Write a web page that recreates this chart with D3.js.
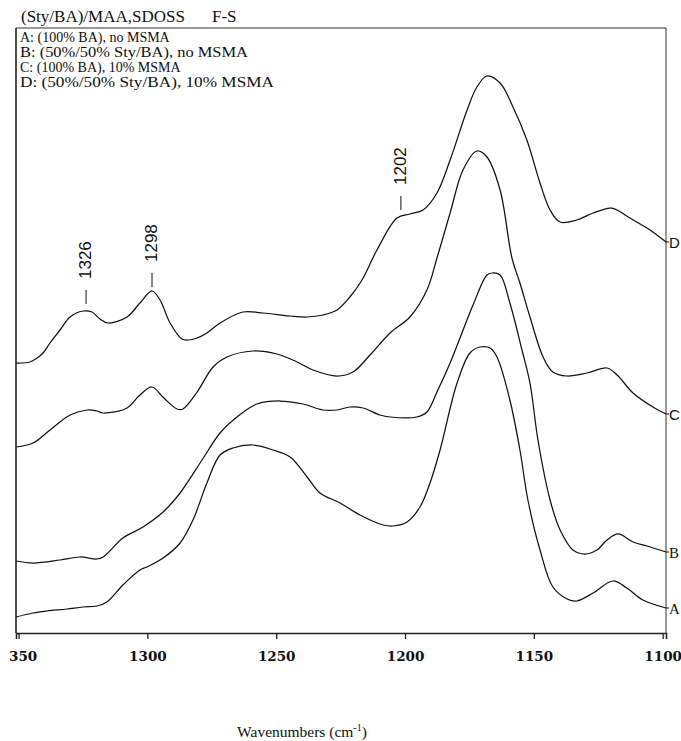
<!DOCTYPE html>
<html>
<head>
<meta charset="utf-8">
<script src="https://cdn.jsdelivr.net/npm/d3@7"></script>
<style>
	body { margin: 0; background: #fff; }
	svg { display: block; }
	.spectrum { fill: none; stroke: #111; stroke-width: 1.25; }
	.x.axis text { font-family: "DejaVu Serif", serif; font-weight: bold; font-size: 13.5px; fill: #111; }
	.x.axis line { stroke: #111; stroke-width: 1.2; }
</style>
</head>
<body>
<div id="chartContainer"></div>
<script>
//wavenumber (cm-1) / absorbance pairs for each trace (offset units)
var wnA = [1351, 1344.4, 1339, 1331.2, 1325, 1319.6, 1315.7, 1309.5, 1302.9, 1300.2, 1293.9, 1287.3, 1282.3, 1276.9, 1271.8, 1266.8, 1259, 1251.2, 1244.6, 1238, 1233, 1225.2, 1217.5, 1208.5, 1204.7, 1199.2, 1194.2, 1190.3, 1186.4, 1179.8, 1174.8, 1170.9, 1167, 1164.3, 1159.3, 1155.4, 1152.3, 1147.6, 1142.6, 1137.1, 1133.3, 1127, 1119.3, 1113.9, 1107.7, 1098.7];
var absA = [1.6, 2.0, 2.2, 2.4, 2.6, 2.7, 3.1, 4.8, 6.3, 6.6, 7.5, 9.0, 11.3, 15.0, 17.8, 18.5, 18.8, 18.3, 17.6, 15.6, 14.0, 13.0, 11.8, 10.8, 10.7, 11.1, 12.6, 15.0, 18.3, 25.0, 28.0, 28.6, 28.5, 27.6, 23.3, 18.3, 13.3, 8.3, 4.6, 3.4, 3.2, 4.0, 5.2, 4.5, 3.3, 2.5];

var wnB = [1351, 1344.4, 1333.9, 1326.2, 1319.6, 1317.2, 1309.5, 1301.7, 1293.9, 1287.3, 1278.8, 1271.8, 1265.2, 1257.5, 1248.5, 1239.6, 1231.8, 1226.4, 1221.4, 1216.3, 1209.7, 1205.8, 1195.4, 1191.5, 1187.6, 1182.5, 1173.6, 1168.2, 1166.2, 1163.1, 1159.3, 1154.6, 1151.5, 1148.4, 1143.7, 1139.8, 1134.8, 1130.1, 1125.5, 1121.6, 1117.3, 1111.5, 1106.1, 1098.7];
var absB = [7.2, 7.0, 7.3, 7.6, 7.4, 7.6, 9.5, 10.6, 12.1, 14.0, 17.3, 20.0, 21.6, 22.9, 23.2, 22.9, 22.3, 22.3, 22.6, 22.5, 21.8, 21.6, 21.6, 22.1, 24.1, 27.0, 32.8, 35.8, 36.0, 35.8, 33.0, 28.3, 25.0, 19.3, 13.3, 10.3, 8.3, 7.9, 8.3, 9.3, 9.9, 9.1, 8.7, 8.1];

var wnC = [1351, 1344.4, 1337.8, 1330, 1323.4, 1319.6, 1317.2, 1307.9, 1302.9, 1298.2, 1294, 1288.5, 1286.2, 1280.7, 1274.5, 1269.1, 1259, 1249.7, 1241.9, 1235.7, 1226.4, 1220.2, 1213.6, 1205.8, 1198.1, 1191.5, 1187.6, 1182.5, 1177.5, 1172.1, 1168.2, 1163.1, 1158.5, 1155.4, 1151.5, 1146.4, 1142.6, 1137.1, 1129.4, 1121.6, 1117.7, 1111.5, 1103.8, 1098.7];
var absC = [18.6, 19.0, 20.3, 21.8, 22.3, 22.2, 22.0, 22.5, 23.8, 24.6, 23.6, 22.4, 22.4, 24.1, 26.6, 27.6, 28.2, 27.9, 27.1, 26.3, 25.7, 26.1, 27.8, 30.0, 31.6, 34.3, 37.5, 42.0, 46.3, 48.2, 47.6, 44.3, 37.5, 35.0, 31.6, 27.6, 26.1, 25.7, 26.0, 26.5, 25.8, 24.0, 22.6, 21.9];

var wnD = [1351, 1345.6, 1342.8, 1340.5, 1337.8, 1333.9, 1330, 1325, 1321.5, 1318.4, 1315.3, 1307.9, 1302.9, 1298.2, 1295.1, 1291.2, 1286.6, 1284.2, 1280.7, 1276.9, 1271.8, 1262.9, 1255.1, 1244.6, 1238, 1231.8, 1226.4, 1221.4, 1216.7, 1210.9, 1203.1, 1198.1, 1193, 1187.6, 1182.5, 1175.9, 1172.1, 1168.2, 1163.1, 1158.1, 1152.7, 1147.6, 1143.7, 1139.8, 1133.3, 1127, 1120.4, 1117.7, 1112.7, 1104.9, 1098.7];
var absD = [27.0, 27.1, 27.5, 28.0, 29.0, 30.3, 31.6, 32.2, 32.1, 31.4, 31.0, 31.6, 33.0, 34.2, 33.3, 31.0, 29.4, 29.3, 29.5, 30.0, 31.0, 32.1, 32.0, 31.7, 31.6, 31.8, 32.3, 33.6, 35.3, 38.3, 41.5, 41.9, 42.3, 44.0, 47.3, 52.3, 54.6, 55.7, 55.0, 52.6, 49.3, 45.0, 42.3, 41.1, 41.3, 42.0, 42.5, 42.3, 41.5, 40.3, 39.1];

var seriesNames = ["A", "B", "C", "D"];

//x axis
var xTicks = [1350, 1300, 1250, 1200, 1150, 1100];
var xTickLabels = ["350", "1300", "1250", "1200", "1150", "1100"];

//peak markers over trace D
var markWn = [1323.8, 1298.2, 1201.6];
var markLevel = [32.9, 34.6, 42.3];
var markLabels = ["1326", "1298", "1202"];

var titleText = "(Sty/BA)/MAA,SDOSS";
var titleTag = "F-S";
var legendLines = ["A: (100% BA), no MSMA", "B: (50%/50% Sty/BA), no MSMA", "C: (100% BA), 10% MSMA", "D: (50%/50% Sty/BA), 10% MSMA"];
var legendWidths = [null, 228, null, 254]; //the scanned font runs wider on the Sty/BA lines

var W = 681, H = 741;
var margin = {top: 28, right: 15, bottom: 108, left: 16};
var graph_w = W - margin.left - margin.right;
var graph_h = H - margin.top - margin.bottom;

var svg = d3.select("#chartContainer").append("svg")
	.attr("width", W)
	.attr("height", H);

var g = svg.append("g")
	.attr("transform", "translate(" + margin.left + "," + margin.top + ")");

var x = d3.scaleLinear()
	.domain([1351, 1098.7])
	.range([0, graph_w]);

var y = d3.scaleLinear()
	.domain([0, 60.5])
	.range([graph_h, 0]);

var series = [
	{name: "A", wn: wnA, abs: absA},
	{name: "B", wn: wnB, abs: absB},
	{name: "C", wn: wnC, abs: absC},
	{name: "D", wn: wnD, abs: absD}
];

// frame: top/right lighter than the left/bottom axes
g.append("line").attr("x1", 0).attr("x2", graph_w).attr("y1", 0).attr("y2", 0)
	.attr("stroke", "#333").attr("stroke-width", 1);
g.append("line").attr("x1", graph_w).attr("x2", graph_w).attr("y1", 0).attr("y2", graph_h)
	.attr("stroke", "#333").attr("stroke-width", 1);
g.append("line").attr("x1", 0).attr("x2", 0).attr("y1", 0).attr("y2", graph_h)
	.attr("stroke", "#222").attr("stroke-width", 1.6);

var xAxis = d3.axisBottom(x)
	.tickValues(xTicks)
	.tickSize(6)
	.tickPadding(12)
	.tickFormat(function(d, i) { return xTickLabels[i]; });

var gx = g.append("g")
	.attr("class", "x axis")
	.attr("transform", "translate(0," + graph_h + ")")
	.call(xAxis);
gx.select(".domain").attr("stroke", "#222").attr("stroke-width", 1.6);
// first label is cut to "350" on the original, nudged a bit right
gx.selectAll(".tick text").filter(function(d) { return d == 1350; }).attr("dx", 4);

var line = d3.line()
	.x(function(d) { return x(d[0]); })
	.y(function(d) { return y(d[1]); })
	.curve(d3.curveCatmullRom.alpha(0.5));

series.forEach(function(s) {
	var pts = s.wn.map(function(w, i) { return [w, s.abs[i]]; });
	g.append("path")
		.datum(pts)
		.attr("class", "spectrum trace" + s.name)
		.attr("d", line);

	var last = pts[pts.length - 1];
	g.append("line")
		.attr("x1", x(last[0])).attr("x2", x(last[0]) + 3)
		.attr("y1", y(last[1])).attr("y2", y(last[1]))
		.attr("stroke", "#111");
	g.append("text")
		.attr("x", x(last[0]) + 3)
		.attr("y", y(last[1]) + 6)
		.attr("font-family", (s.name == "A" || s.name == "B") ? "'Liberation Serif', serif" : "'Liberation Sans', sans-serif")
		.attr("font-size", "15px")
		.attr("fill", "#111")
		.text(s.name);
});

// peak markers
markWn.forEach(function(w, i) {
	var px = x(w), py = y(markLevel[i]);
	g.append("line")
		.attr("x1", px).attr("x2", px)
		.attr("y1", py).attr("y2", py - 14)
		.attr("stroke", "#111").attr("stroke-width", 1);
	g.append("text")
		.attr("transform", "translate(" + (px + 5) + "," + (py - 25) + ") rotate(-90)")
		.attr("font-family", "'Liberation Sans', Arial, sans-serif")
		.attr("font-size", "17px")
		.attr("fill", "#111")
		.text(markLabels[i]);
});

// header and legend
svg.append("text")
	.attr("x", 21).attr("y", 22)
	.attr("font-family", "'Liberation Serif', serif")
	.attr("font-size", "17px")
	.attr("fill", "#111")
	.text(titleText);
svg.append("text")
	.attr("x", 212).attr("y", 22)
	.attr("font-family", "'Liberation Serif', serif")
	.attr("font-size", "17px")
	.attr("fill", "#111")
	.text(titleTag);

var legend = svg.selectAll("text.legend")
	.data(legendLines)
	.enter().append("text")
	.attr("class", "legend")
	.attr("x", 20)
	.attr("y", function(d, i) { return 42 + i * 15; })
	.attr("font-family", "'Liberation Serif', serif")
	.attr("font-size", "14px")
	.attr("fill", "#111")
	.text(function(d) { return d; });
legend.filter(function(d, i) { return legendWidths[i]; })
	.attr("textLength", function(d) { return legendWidths[legendLines.indexOf(d)]; })
	.attr("lengthAdjust", "spacingAndGlyphs");

// axis title
var xt = svg.append("text")
	.attr("x", 302).attr("y", 737)
	.attr("text-anchor", "middle")
	.attr("font-family", "'Liberation Serif', serif")
	.attr("font-size", "15.5px")
	.attr("fill", "#111");
xt.append("tspan").text("Wavenumbers (cm");
xt.append("tspan").attr("dy", "-6").attr("font-size", "10px").text("-1");
xt.append("tspan").attr("dy", "6").text(")");
</script>
</body>
</html>
